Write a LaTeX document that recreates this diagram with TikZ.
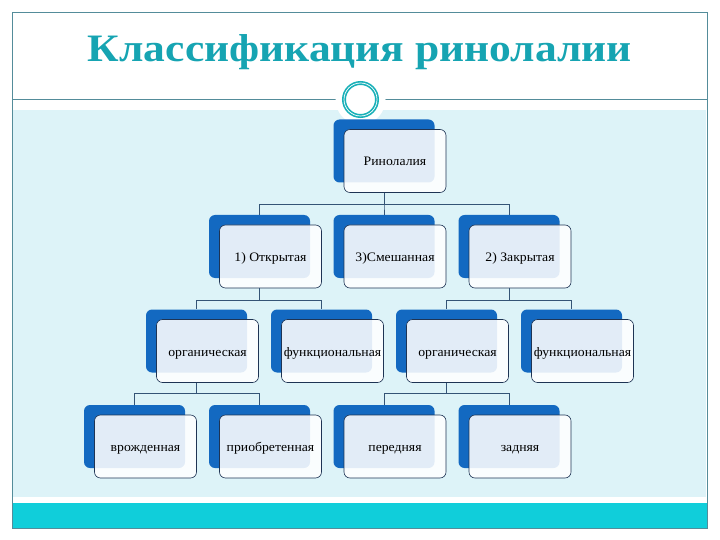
\documentclass[tikz,border=0pt]{standalone}
\usepackage{fontspec}
\setmainfont{Liberation Serif}
\newfontfamily\titlefont[FakeStretch=1.12]{Liberation Serif}
\newfontfamily\boxfont[FakeStretch=1.06]{Liberation Serif}
\usetikzlibrary{positioning}
\definecolor{titlecol}{RGB}{22,164,178}
\definecolor{ringcol}{RGB}{24,176,184}
\definecolor{bandcol}{RGB}{16,206,218}
\definecolor{paper}{RGB}{221,243,248}
\definecolor{framecol}{RGB}{84,140,154}
\definecolor{boxblue}{RGB}{19,105,193}
\definecolor{boxedge}{RGB}{30,52,84}
\definecolor{linkcol}{RGB}{52,84,118}

\begin{document}
\begin{tikzpicture}[x=1bp,y=-1bp,
    back/.style={fill=boxblue,rounded corners=6bp,minimum width=101bp,minimum height=63bp,inner sep=0pt},
    front/.style={fill=white,fill opacity=0.88,text opacity=1,draw=boxedge,line width=0.6bp,
                  rounded corners=6bp,minimum width=102bp,minimum height=63bp,inner sep=0pt,
                  text height=10bp,text depth=0bp,font=\boxfont\fontsize{13}{14}\selectfont},
    link/.style={draw=linkcol,line width=0.8bp}]
    \useasboundingbox (0,0) rectangle (720,540);
    % slide
    \fill[paper] (13,110) rectangle (706,497);
    \fill[bandcol] (12,503) rectangle (708,528);
    \draw[framecol,line width=0.7bp] (12,12.5) rectangle (707,528);
    \draw[framecol,line width=0.8bp] (12,99.5) -- (707,99.5);
    \fill[white] (360.5,99.5) circle (25);
    \draw[ringcol,line width=4bp] (360.5,99.5) circle (16.5);
    \draw[white,line width=0.7bp] (360.5,99.5) circle (16.5);
    \node[text=titlecol,font=\titlefont\bfseries\fontsize{39}{41}\selectfont] (title) at (360,52) {Классификация ринолалии};
    % back boxes
    \node[back] (r)  at (384,151)   {};
    \node[back] (o)  at (259.5,246.5) {};
    \node[back] (s)  at (384,246.5) {};
    \node[back] (z)  at (509,246.5) {};
    \node[back] (o1) at (196.5,341) {};
    \node[back] (f1) at (321.5,341) {};
    \node[back] (o2) at (446.5,341) {};
    \node[back] (f2) at (571.5,341) {};
    \node[back] (v)  at (134.5,436.5) {};
    \node[back] (p)  at (259.5,436.5) {};
    \node[back] (pe) at (384,436.5) {};
    \node[back] (za) at (509,436.5) {};
    % front boxes
    \node[front] (rf)  at ([shift={(11,10)}]r.center)  {Ринолалия};
    \node[front] (of)  at ([shift={(11,10)}]o.center)  {1) Открытая};
    \node[front] (sf)  at ([shift={(11,10)}]s.center)  {3)Смешанная};
    \node[front] (zf)  at ([shift={(11,10)}]z.center)  {2) Закрытая};
    \node[front] (o1f) at ([shift={(11,10)}]o1.center) {органическая};
    \node[front] (f1f) at ([shift={(11,10)}]f1.center) {функциональная};
    \node[front] (o2f) at ([shift={(11,10)}]o2.center) {органическая};
    \node[front] (f2f) at ([shift={(11,10)}]f2.center) {функциональная};
    \node[front] (vf)  at ([shift={(11,10)}]v.center)  {врожденная};
    \node[front] (pf)  at ([shift={(11,10)}]p.center)  {приобретенная};
    \node[front] (pef) at ([shift={(11,10)}]pe.center) {передняя};
    \node[front] (zaf) at ([shift={(11,10)}]za.center) {задняя};
    % links
    \draw[link] (r.south |- rf.south) -- ++(0,12) -| (o.north);
    \draw[link] (r.south |- rf.south) -- ++(0,12) -| (s.north);
    \draw[link] (r.south |- rf.south) -- ++(0,12) -| (z.north);
    \draw[link] (o.south |- of.south) -- ++(0,12) -| (o1.north);
    \draw[link] (o.south |- of.south) -- ++(0,12) -| (f1.north);
    \draw[link] (z.south |- zf.south) -- ++(0,12) -| (o2.north);
    \draw[link] (z.south |- zf.south) -- ++(0,12) -| (f2.north);
    \draw[link] (o1.south |- o1f.south) -- ++(0,11) -| (v.north);
    \draw[link] (o1.south |- o1f.south) -- ++(0,11) -| (p.north);
    \draw[link] (o2.south |- o2f.south) -- ++(0,11) -| (pe.north);
    \draw[link] (o2.south |- o2f.south) -- ++(0,11) -| (za.north);
\end{tikzpicture}
\end{document}
